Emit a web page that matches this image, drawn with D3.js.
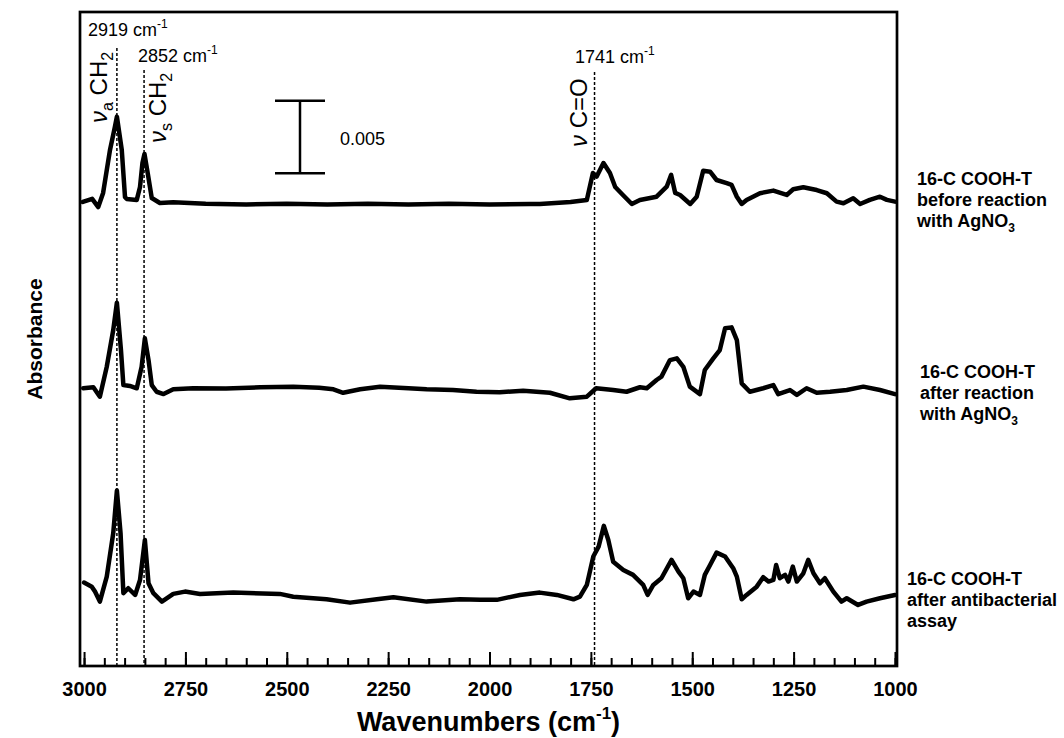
<!DOCTYPE html>
<html>
<head>
<meta charset="utf-8">
<script src="https://cdn.jsdelivr.net/npm/d3@7"></script>
<style>
  body { margin: 0; background: #fff; }
  text { font-family: "Liberation Sans", Arial, sans-serif; fill: #000; }
</style>
</head>
<body>
<div id="chart"></div>
<script>
const width = 1064;
const height = 738;

const margin = { top: 12, right: 167, bottom: 72, left: 80 };

// x ticks (wavenumbers, cm-1)
const majorTicks = [3000, 2750, 2500, 2250, 2000, 1750, 1500, 1250, 1000];
const minorTicks = d3.range(3000, 999, -50);

// marked bands
const peakLines = [2919, 2852, 1741];

// spectrum 1: before reaction with AgNO3 (milli-absorbance above its baseline)
const beforeWn = [3003, 2980, 2965, 2953, 2936, 2924, 2919, 2907, 2899, 2895,
  2870, 2862, 2856, 2851, 2843, 2833, 2813, 2780, 2700, 2600,
  2500, 2400, 2300, 2200, 2100, 2000, 1900, 1876, 1800, 1760,
  1745, 1736, 1719, 1703, 1690, 1671, 1649, 1629, 1588, 1563,
  1552, 1542, 1530, 1505, 1489, 1473, 1456, 1440, 1415, 1403,
  1390, 1378, 1366, 1333, 1300, 1267, 1251, 1226, 1193, 1168,
  1144, 1127, 1103, 1086, 1062, 1037, 1020, 1000];
const beforeAbs = [0.07, 0.28, -0.28, 0.69, 3.65, 5.23, 5.94, 3.65, 0.41, 0.28,
  0.21, 1.10, 2.75, 3.37, 2.06, 0.34, 0.0, 0.05, -0.05, -0.1,
  -0.05, -0.1, -0.05, -0.1, -0.05, -0.1, -0.07, -0.07, 0.07, 0.21,
  2.06, 1.81, 2.75, 2.06, 1.10, 0.55, -0.07, 0.21, 0.43, 1.12,
  1.93, 0.69, 0.55, -0.07, 0.43, 2.22, 2.15, 1.58, 1.36, 1.24,
  0.43, -0.07, 0.21, 0.67, 0.85, 0.55, 0.94, 1.08, 0.89, 0.67,
  0.09, -0.02, 0.32, -0.07, 0.21, 0.43, 0.21, 0.09];

// spectrum 2: after reaction with AgNO3
const afterWn = [3002, 2977, 2961, 2944, 2928, 2919, 2909, 2903, 2887, 2870,
  2858, 2850, 2841, 2833, 2821, 2804, 2780, 2731, 2650, 2566,
  2484, 2420, 2385, 2361, 2319, 2270, 2200, 2155, 2090, 2032,
  1975, 1917, 1851, 1802, 1760, 1737, 1695, 1662, 1629, 1612,
  1588, 1576, 1555, 1538, 1522, 1506, 1481, 1469, 1448, 1432,
  1419, 1403, 1390, 1378, 1358, 1325, 1300, 1288, 1259, 1242,
  1218, 1193, 1160, 1119, 1078, 1037, 1000];
const afterAbs = [0.12, 0.19, -0.46, 1.60, 4.13, 6.01, 2.75, 0.34, 0.28, 0.12,
  1.60, 3.56, 2.06, 0.34, -0.12, -0.28, 0.05, 0.12, 0.1, 0.19,
  0.23, 0.15, 0.05, -0.19, 0.05, 0.23, 0.12, 0.05, 0.0, -0.12,
  -0.15, -0.05, -0.19, -0.57, -0.46, 0.12, 0, -0.12, 0.19, 0.12,
  0.69, 0.92, 2.06, 2.18, 1.60, 0.23, -0.28, 1.38, 2.18, 2.75,
  4.25, 4.31, 3.44, 0.46, -0.12, 0.12, 0.34, -0.28, 0, -0.34,
  0.12, -0.19, -0.12, 0, 0.23, 0, -0.28];

// spectrum 3: after antibacterial assay
const assayWn = [3000, 2981, 2973, 2961, 2944, 2928, 2919, 2910, 2903, 2891,
  2874, 2862, 2850, 2841, 2829, 2808, 2780, 2751, 2714, 2632,
  2517, 2484, 2402, 2344, 2278, 2237, 2155, 2073, 2023, 1982,
  1925, 1876, 1834, 1793, 1777, 1760, 1744, 1731, 1718, 1707,
  1695, 1670, 1646, 1621, 1610, 1596, 1576, 1551, 1534, 1522,
  1510, 1497, 1481, 1469, 1456, 1440, 1419, 1399, 1390, 1378,
  1366, 1341, 1325, 1312, 1300, 1293, 1284, 1271, 1263, 1252,
  1242, 1226, 1214, 1201, 1185, 1173, 1152, 1132, 1119, 1091,
  1070, 1037, 1000];
const assayAbs = [0.85, 0.57, 0.23, -0.46, 1.26, 4.25, 7.18, 4.25, 0.12, 0.46,
  0, 1.03, 3.78, 0.80, 0.12, -0.46, 0.07, 0.23, 0.07, 0.16,
  0.07, -0.12, -0.30, -0.53, -0.30, -0.16, -0.46, -0.30, -0.34, -0.34,
  0, 0.16, 0, -0.30, -0.12, 0.69, 2.64, 3.32, 4.75, 3.78,
  2.29, 1.72, 1.38, 0.69, 0, 0.69, 1.15, 2.41, 1.60, 1.15,
  -0.23, 0.23, 0, 1.38, 2.06, 2.91, 2.64, 1.84, 1.26, -0.30,
  0, 0.57, 1.22, 0.92, 1.03, 2.06, 1.15, 1.38, 0.92, 1.95,
  0.92, 1.49, 2.41, 1.49, 0.80, 1.15, 0.23, -0.46, -0.23, -0.69,
  -0.46, -0.23, 0];

// vertical stacking offsets (absorbance)
const offsets = [0.03186, 0.01899, 0.00489];

const sampleNames = [
  ['16-C COOH-T', 'before reaction', 'with AgNO_3'],
  ['16-C COOH-T', 'after reaction', 'with AgNO_3'],
  ['16-C COOH-T', 'after antibacterial', 'assay']
];

const scaleBarValue = 0.005;

const svg = d3.select('#chart')
  .append('svg')
  .attr('width', width)
  .attr('height', height)
  .attr('viewBox', [0, 0, width, height]);

const x = d3.scaleLinear()
  .domain([3010, 995])
  .range([margin.left, width - margin.right]);

const y = d3.scaleLinear()
  .domain([0, 0.045])
  .range([height - margin.bottom, margin.top]);

const spectra = [
  { wn: beforeWn, abs: beforeAbs },
  { wn: afterWn, abs: afterAbs },
  { wn: assayWn, abs: assayAbs }
].map((s, i) => s.wn.map((w, j) => [w, offsets[i] + s.abs[j] / 1000]));

// dotted lines at the marked bands
const lineTops = [48, 70, 72];
svg.append('g')
  .selectAll('line')
  .data(peakLines)
  .join('line')
    .attr('x1', d => x(d))
    .attr('x2', d => x(d))
    .attr('y1', (d, i) => lineTops[i])
    .attr('y2', y(0))
    .attr('stroke', '#000')
    .attr('stroke-width', 1.5)
    .attr('stroke-dasharray', '3,2');

// spectra
const line = d3.line()
  .x(d => x(d[0]))
  .y(d => y(d[1]));

svg.append('g')
  .selectAll('path')
  .data(spectra)
  .join('path')
    .attr('d', line)
    .attr('fill', 'none')
    .attr('stroke', '#000')
    .attr('stroke-width', 4.5)
    .attr('stroke-linejoin', 'round')
    .attr('stroke-linecap', 'round');

// x axis: minor and major ticks pointing inward
const axisY = height - margin.bottom;
svg.append('g')
  .attr('transform', `translate(0,${axisY})`)
  .call(d3.axisBottom(x).tickValues(minorTicks).tickSize(-8).tickFormat(''))
  .call(g => g.select('.domain').remove())
  .call(g => g.selectAll('line').attr('stroke-width', 2));

svg.append('g')
  .attr('transform', `translate(0,${axisY})`)
  .call(d3.axisBottom(x).tickValues(majorTicks).tickSize(-14).tickFormat(d3.format('d')))
  .call(g => g.select('.domain').remove())
  .call(g => g.selectAll('line').attr('stroke-width', 2))
  .call(g => g.selectAll('text')
    .attr('y', 30)
    .attr('dy', 0)
    .attr('font-size', 20)
    .attr('font-weight', 'bold')
    .attr('font-family', '"Liberation Sans", Arial, sans-serif'));

// frame
svg.append('rect')
  .attr('x', margin.left)
  .attr('y', margin.top)
  .attr('width', width - margin.left - margin.right)
  .attr('height', height - margin.top - margin.bottom)
  .attr('fill', 'none')
  .attr('stroke', '#000')
  .attr('stroke-width', 2.7);

// axis titles
const xTitle = svg.append('text')
  .attr('x', (margin.left + width - margin.right) / 2)
  .attr('y', 731)
  .attr('text-anchor', 'middle')
  .attr('font-size', 27)
  .attr('font-weight', 'bold');
xTitle.append('tspan').text('Wavenumbers (cm');
xTitle.append('tspan').attr('font-size', 17).attr('dy', -12).text('-1');
xTitle.append('tspan').attr('dy', 12).text(')');

svg.append('text')
  .attr('transform', `translate(42,${(margin.top + axisY) / 2}) rotate(-90)`)
  .attr('text-anchor', 'middle')
  .attr('font-size', 21)
  .attr('font-weight', 'bold')
  .text('Absorbance');

// band position labels
const bandLabelPos = [[88, 36], [138, 62], [575, 63]];
peakLines.forEach((d, i) => {
  const t = svg.append('text')
    .attr('x', bandLabelPos[i][0])
    .attr('y', bandLabelPos[i][1])
    .attr('font-size', 18);
  t.append('tspan').text(`${d} cm`);
  t.append('tspan').attr('font-size', 12).attr('dy', -8).text('-1');
});

// vibration labels (rotated)
function vibLabel(px, py, sub, rest) {
  const t = svg.append('text')
    .attr('transform', `translate(${px},${py}) rotate(-90)`)
    .attr('font-size', 24);
  t.append('tspan').attr('font-style', 'italic').text('\u03bd');
  if (sub) {
    t.append('tspan').attr('font-size', 16).attr('dy', 6).text(sub);
    t.append('tspan').attr('dy', -6).text(' ');
  } else {
    t.append('tspan').text(' ');
  }
  rest.forEach(r => {
    if (r.sub) t.append('tspan').attr('font-size', 16).attr('dy', 6).text(r.s);
    else t.append('tspan').text(r.s);
  });
}
vibLabel(107, 123, 'a', [{ s: 'CH' }, { s: '2', sub: true }]);
vibLabel(166, 143, 's', [{ s: 'CH' }, { s: '2', sub: true }]);
vibLabel(587, 147, null, [{ s: 'C=O' }]);

// absorbance scale bar
const barX = 300;
const barBase = 0.0339;
const bar = svg.append('g')
  .attr('stroke', '#000')
  .attr('stroke-width', 2.5);
bar.append('line')
  .attr('x1', barX).attr('x2', barX)
  .attr('y1', y(barBase)).attr('y2', y(barBase + scaleBarValue));
[barBase, barBase + scaleBarValue].forEach(v => {
  bar.append('line')
    .attr('x1', barX - 25).attr('x2', barX + 25)
    .attr('y1', y(v)).attr('y2', y(v));
});
svg.append('text')
  .attr('x', 340)
  .attr('y', 145)
  .attr('font-size', 18)
  .text(scaleBarValue);

// sample labels on the right
const labelPos = [[917, 185], [920, 378], [907, 585]];
sampleNames.forEach((lines, i) => {
  const t = svg.append('text')
    .attr('font-size', 18)
    .attr('font-weight', 'bold');
  lines.forEach((ln, k) => {
    const parts = ln.split('_');
    t.append('tspan')
      .attr('x', labelPos[i][0])
      .attr('y', labelPos[i][1] + k * 21)
      .text(parts[0]);
    if (parts[1]) {
      t.append('tspan').attr('font-size', 12).attr('dy', 5).text(parts[1]);
    }
  });
});
</script>
</body>
</html>
